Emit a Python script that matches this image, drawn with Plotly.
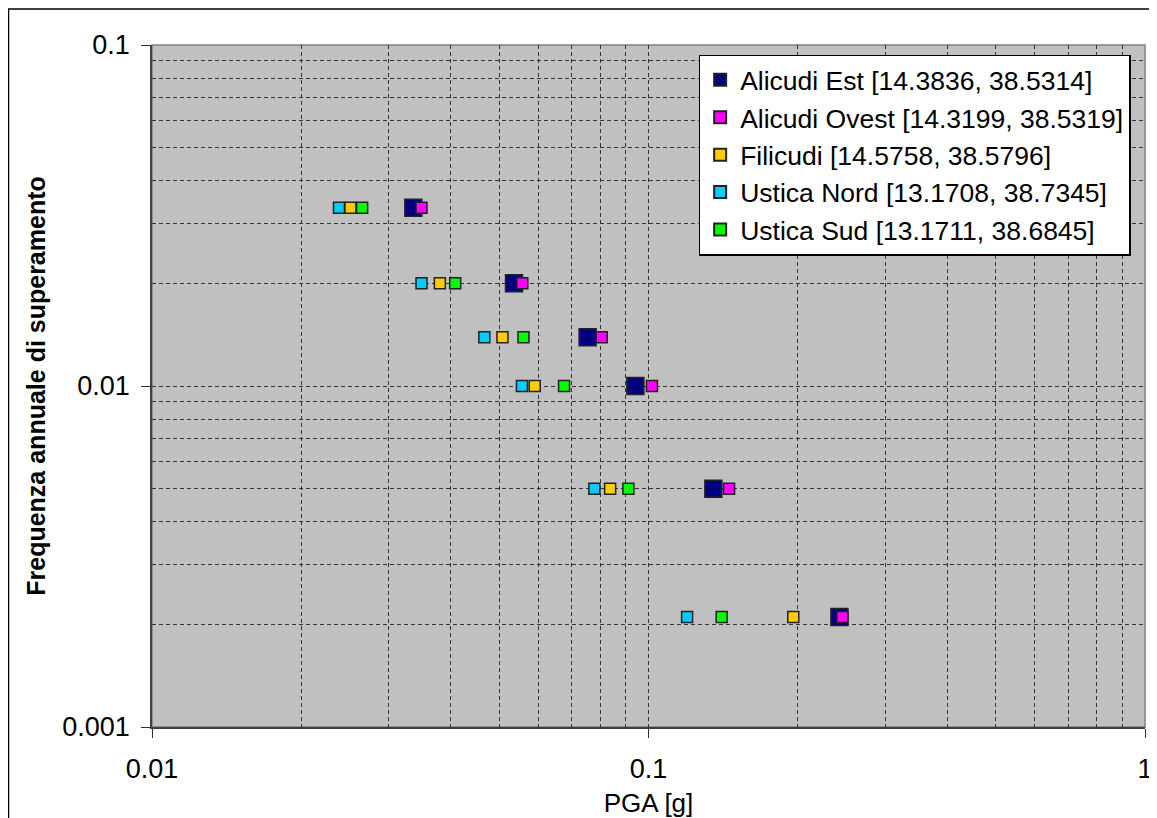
import plotly.graph_objects as go

# Annual exceedance frequency (y) for each return period level
freq = [0.0333, 0.02, 0.0139, 0.01, 0.005, 0.0021]

series_names = [
    "Alicudi Est [14.3836, 38.5314]",
    "Alicudi Ovest [14.3199, 38.5319]",
    "Filicudi [14.5758, 38.5796]",
    "Ustica Nord [13.1708, 38.7345]",
    "Ustica Sud [13.1711, 38.6845]",
]

pga_alicudi_est = [0.0336, 0.0536, 0.0754, 0.0941, 0.1351, 0.2424]
pga_alicudi_ovest = [0.0349, 0.0557, 0.0805, 0.1016, 0.1453, 0.2458]
pga_filicudi = [0.0251, 0.0380, 0.0508, 0.0590, 0.0837, 0.1957]
pga_ustica_nord = [0.0238, 0.0349, 0.0467, 0.0556, 0.0778, 0.1196]
pga_ustica_sud = [0.0265, 0.0408, 0.0560, 0.0676, 0.0911, 0.1404]

colors = ["#000080", "#FF00FF", "#FFCC00", "#00CCFF", "#00FF00"]
sizes = [17, 11, 11, 11, 11]

all_pga = [pga_alicudi_est, pga_alicudi_ovest, pga_filicudi, pga_ustica_nord, pga_ustica_sud]

x_major = [0.01, 0.1, 1]
y_major = [0.001, 0.01, 0.1]
x_labels = ["0.01", "0.1", "1"]
y_labels = ["0.001", "0.01", "0.1"]

FONT = "Arial, Liberation Sans, sans-serif"

fig = go.Figure()
for name, xs, c, s in zip(series_names, all_pga, colors, sizes):
    fig.add_trace(go.Scatter(
        x=xs, y=freq, mode="markers", name=name,
        marker=dict(symbol="square", size=s, color=c,
                    line=dict(color="#222222", width=1.5)),
    ))

minor_x = [m * 10 ** e for e in (-2, -1) for m in range(2, 10)]
minor_y = [m * 10 ** e for e in (-3, -2) for m in range(2, 10)]

grid_col = "#333333"
dash = "4px,3px"

fig.update_xaxes(
    type="log", range=[-2, 0], automargin=False,
    tickmode="array", tickvals=x_major, ticktext=x_labels,
    ticks="outside", ticklen=9, tickcolor="#303030", tickwidth=1,
    showgrid=True, gridcolor=grid_col, griddash=dash, gridwidth=1,
    minor=dict(tickmode="array", tickvals=minor_x, showgrid=True,
               gridcolor=grid_col, griddash=dash, gridwidth=1, ticks=""),
    showline=True, linecolor="#404040", linewidth=2,
    zeroline=False,
    ticklabelstandoff=8,
    tickfont=dict(family=FONT, size=27, color="black"),
    title=dict(text="PGA [g]", font=dict(family=FONT, size=26, color="black"), standoff=12),
)
fig.update_yaxes(
    type="log", range=[-3, -1], automargin=False,
    tickmode="array", tickvals=y_major, ticktext=y_labels,
    ticks="outside", ticklen=9, tickcolor="#303030", tickwidth=1,
    showgrid=True, gridcolor=grid_col, griddash=dash, gridwidth=1,
    minor=dict(tickmode="array", tickvals=minor_y, showgrid=True,
               gridcolor=grid_col, griddash=dash, gridwidth=1, ticks=""),
    showline=True, linecolor="#404040", linewidth=1.5,
    zeroline=False,
    ticklabelstandoff=6,
    tickfont=dict(family=FONT, size=27, color="black"),
    title=dict(text="<b>Frequenza annuale di superamento</b>",
               font=dict(family=FONT, size=25, color="black"), standoff=10),
)

# The page body has an 8px margin, so the figure is sized to fill the rest of the window.
fig.update_layout(
    width=1149, height=810,
    margin=dict(l=144, r=12, t=37, b=91),
    paper_bgcolor="white",
    plot_bgcolor="#C0C0C0",
    showlegend=True,
    legend=dict(
        x=0.5505, y=0.986, xanchor="left", yanchor="top",
        bgcolor="white", bordercolor="black", borderwidth=1.5,
        font=dict(family=FONT, size=26.5, color="black"),
        itemsizing="constant",
        tracegroupgap=0,
    ),
    shapes=[
        dict(type="rect", xref="paper", yref="paper", x0=0, x1=1, y0=0, y1=1,
             line=dict(color="#808080", width=1.5), layer="below"),
        dict(type="rect", xref="paper", yref="paper",
             x0=-0.1445, x1=1.05, y0=-0.2, y1=1.0528,
             line=dict(color="black", width=1.5), layer="above"),
    ],
)

fig.write_html("out.html")
